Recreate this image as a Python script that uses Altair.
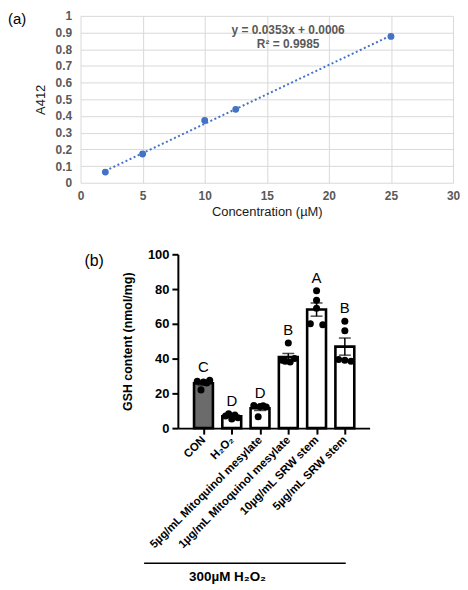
import json
import altair as alt
import pandas as pd

FONT = "Liberation Sans"

# ---------------- Panel (a): standard curve ----------------
conc = [2, 5, 10, 12.5, 25]
a412 = [0.064, 0.172, 0.373, 0.440, 0.877]
equation = ["y = 0.0353x + 0.0006", "R² = 0.9985"]
a_xticks = [0, 5, 10, 15, 20, 25, 30]
a_yticks = [0, 0.1, 0.2, 0.3, 0.4, 0.5, 0.6, 0.7, 0.8, 0.9, 1]

# ---------------- Panel (b): GSH content ----------------
groups = ["CON", "H₂O₂", "5µg/mL Mitoquinol mesylate", "1µg/mL Mitoquinol mesylate",
          "10µg/mL SRW stem", "5µg/mL SRW stem"]
gsh_values = [
    [27.0, 26.5, 26.0, 22.0, 27.5],
    [8.2, 7.6, 7.0, 6.0, 5.2],
    [13.0, 12.5, 12.8, 12.2, 6.5],
    [49.0, 40.0, 39.0, 38.0, 38.5],
    [79.0, 73.5, 69.0, 60.0, 59.5],
    [61.5, 56.0, 39.5, 38.5, 39.0],
]
dot_lanes = [
    [-1, 0, 0.5, -0.4, 1],
    [-0.5, 0.5, -1, 1, 0],
    [-1, 0, 0.5, 1, -0.3],
    [0, 1, -1, 0.3, -0.5],
    [0, 0, 0, -1, 1],
    [0, 0, -1, 1, 0],
]
letters = ["C", "D", "D", "B", "A", "B"]
bar_colors = ["#6b6b6b", "#ffffff", "#ffffff", "#ffffff", "#ffffff", "#ffffff"]
b_yticks = [0, 20, 40, 60, 80, 100]
treatment_label = "300µM H₂O₂"

df_a = pd.DataFrame({"conc": conc, "a412": a412})

rows = []
for i, (g, vals, lns, let) in enumerate(zip(groups, gsh_values, dot_lanes, letters)):
    for v, l in zip(vals, lns):
        rows.append({"grp": g, "idx": i, "val": v, "lane": l, "letter": let})
df_b = pd.DataFrame(rows)
one = pd.DataFrame({"k": [0]})

AW, AH = 375, 168
BW, BH = 193, 175

# ---- panel a ----
a_xscale = alt.Scale(domain=[0, 30], nice=False, zero=False)
a_yscale = alt.Scale(domain=[0, 1], nice=False)
a_xaxis = alt.Axis(values=a_xticks, title="Concentration (µM)", grid=True,
                   gridColor="#d9d9d9", gridWidth=1, domain=False, ticks=False,
                   labelFont=FONT, labelFontSize=12, labelOverlap=False, labelFlush=False,
                   labelFontWeight="bold", labelColor="#595959", labelPadding=8,
                   titleFont=FONT, titleFontSize=13, titleFontWeight="normal",
                   titleColor="#1a1a1a", titlePadding=4)
a_yaxis = alt.Axis(values=a_yticks, format=".1~f", title="A412", grid=True,
                   gridColor="#d9d9d9", gridWidth=1, domain=False, ticks=False,
                   labelFont=FONT, labelFontSize=12, labelOverlap=False, labelFlush=False,
                   labelFontWeight="bold", labelColor="#595959", labelPadding=9,
                   titleFont=FONT, titleFontSize=13, titleFontWeight="normal",
                   titleColor="#1a1a1a", titlePadding=8)
ax_x = alt.X("conc:Q", scale=a_xscale, axis=a_xaxis)
ax_y = alt.Y("a412:Q", scale=a_yscale, axis=a_yaxis)

base_a = alt.Chart(df_a)
trend = base_a.transform_regression("conc", "a412", extent=[2, 25]).mark_line(
    color="#4472C4", strokeWidth=2, strokeDash=[2, 2.5]).encode(x=ax_x, y=ax_y)
pts = base_a.mark_circle(size=48, color="#4472C4", opacity=1).encode(x=ax_x, y=ax_y)
eq = alt.Chart(one).mark_text(text=equation, font=FONT, fontSize=12, fontWeight="bold",
                              color="#595959", align="center", baseline="top",
                              lineHeight=14.5).encode(x=alt.value(209), y=alt.value(9))
lbl_a = alt.Chart(one).mark_text(text="(a)", font=FONT, fontSize=15, align="left",
                                 baseline="top", color="black").encode(
    x=alt.value(-73), y=alt.value(-4))
chart_a = alt.layer(trend, pts, eq, lbl_a).properties(width=AW, height=AH)

# ---- panel b ----
label_expr = json.dumps(groups, ensure_ascii=False) + "[datum.value]"
b_xscale = alt.Scale(domain=[-0.73, 5.7], nice=False, zero=False)
b_yscale = alt.Scale(domain=[0, 100], nice=False, zero=True)
b_xaxis = alt.Axis(values=list(range(6)), labelExpr=label_expr, title=None,
                   grid=False, domainColor="black", domainWidth=2,
                   tickColor="black", tickWidth=2, tickSize=6, labelAngle=-45,
                   labelAlign="right", labelBaseline="middle", labelOverlap=False,
                   labelFlush=False, labelFont=FONT, labelFontSize=11.5,
                   labelFontWeight="bold", labelColor="black", labelPadding=4)
b_yaxis = alt.Axis(values=b_yticks, title="GSH content (nmol/mg)", grid=False,
                   domainColor="black", domainWidth=2, tickColor="black",
                   tickWidth=2, tickSize=6, labelFont=FONT, labelFontSize=13,
                   labelOverlap=False, labelFlush=False,
                   labelFontWeight="bold", labelColor="black", labelPadding=3,
                   titleFont=FONT, titleFontSize=12.5, titleFontWeight="bold",
                   titleColor="black", titlePadding=13)


def bx(field):
    return alt.X(field, scale=b_xscale, axis=b_xaxis, title=None)


def by(field, **kw):
    return alt.Y(field, scale=b_yscale, axis=b_yaxis, title="GSH content (nmol/mg)", **kw)


bars = alt.Chart(df_b).mark_bar(size=19, stroke="black", strokeWidth=2.6).encode(
    x=bx("idx:Q"), y=by("val:Q", aggregate="mean"),
    fill=alt.Fill("grp:N", scale=alt.Scale(domain=groups, range=bar_colors), legend=None))
errs = alt.Chart(df_b).mark_errorbar(extent="stderr", orient="vertical", color="black",
                                     thickness=1.5,
                                     ticks={"size": 12, "thickness": 1.5}).encode(
    x=bx("idx:Q"), y=by("val:Q"))
dots = alt.Chart(df_b).transform_calculate(dx="datum.idx + datum.lane * 0.22").mark_circle(
    size=50, color="black", opacity=1).encode(x=bx("dx:Q"), y=by("val:Q"))
lett = alt.Chart(df_b).transform_aggregate(top="max(val)", groupby=["idx", "letter"]).mark_text(
    dy=-13, font=FONT, fontSize=15, baseline="middle", color="black").encode(
    x=bx("idx:Q"), y=by("top:Q"), text="letter:N")
lbl_b = alt.Chart(one).mark_text(text="(b)", font=FONT, fontSize=16, align="left",
                                 baseline="middle", color="black").encode(
    x=alt.value(-94), y=alt.value(7))
brace = alt.Chart(one).mark_rule(color="black", strokeWidth=1.5).encode(
    x=alt.value(-34), x2=alt.value(169), y=alt.value(311))
treat = alt.Chart(one).mark_text(text=treatment_label, font=FONT, fontSize=13.5,
                                 fontWeight="bold", align="center", baseline="middle",
                                 color="black").encode(x=alt.value(50), y=alt.value(325))
chart_b = alt.layer(bars, errs, dots, lett, lbl_b, brace, treat).properties(width=BW, height=BH)

spacer = alt.Chart(one).mark_point(opacity=0).encode(
    x=alt.value(0), y=alt.value(0)).properties(width=1, height=1)

row_b = alt.hconcat(spacer, chart_b, spacing=1)
chart = (alt.vconcat(chart_a, row_b, spacing=30)
         .properties(padding=0)
         .configure(font=FONT)
         .configure_view(strokeWidth=0, stroke="transparent")
         .configure_axis(labelOverlap=False, labelFlush=False))

chart.save("out.html", embed_options={"renderer": "svg", "actions": False})
